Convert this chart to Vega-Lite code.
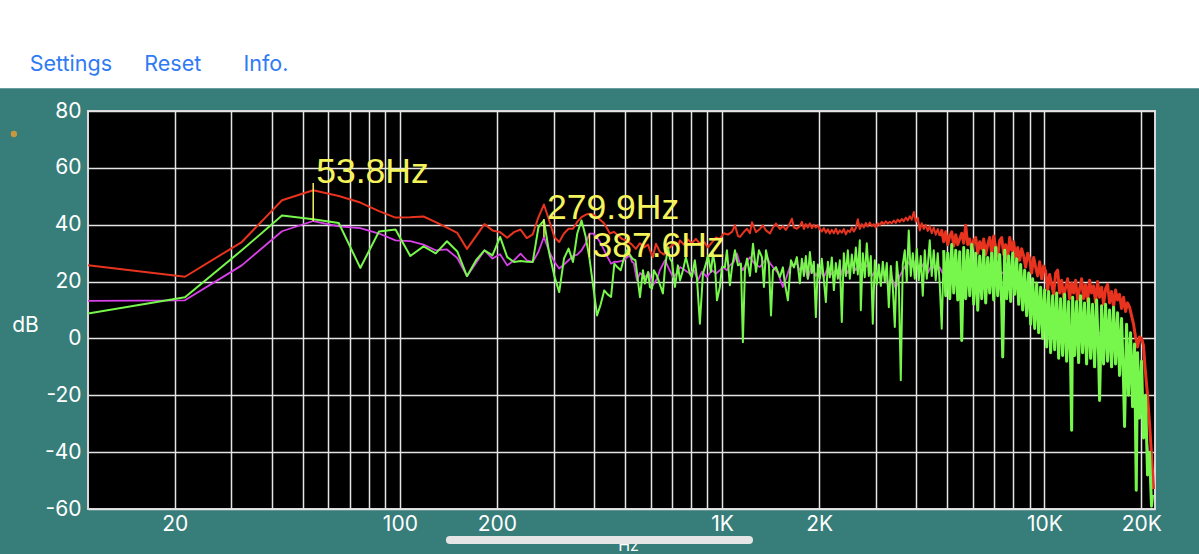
{
  "$schema": "https://vega.github.io/schema/vega-lite/v6.json",
  "width": 1067,
  "height": 398,
  "autosize": {"type": "none"},
  "padding": {"left": 88, "top": 111, "right": 44, "bottom": 45},
  "background": "#377d7a",
  "config": {
    "view": {"fill": "#000000", "stroke": "#d8d8d8", "strokeWidth": 2},
    "axis": {"labelFont": "Inter", "titleFont": "Inter", "labelColor": "#ffffff", "titleColor": "#ffffff", "gridColor": "#e4e4e4", "gridWidth": 1.5, "gridOpacity": 1, "domain": false, "ticks": false, "tickSize": 0, "labelFontSize": 21, "titleFontSize": 21, "titleFontWeight": "normal", "labelFlush": false, "labelOverlap": false}
  },
  "datasets": {
    "red": [
      {"hz":10.77,"db":25.7},{"hz":21.53,"db":21.7},{"hz":32.30,"db":33.9},{"hz":43.07,"db":48.6},{"hz":53.83,"db":52.1},{"hz":64.60,"db":50.1},{"hz":75.37,"db":47.8},{"hz":86.13,"db":44.8},{"hz":96.90,"db":42.5},{"hz":107.7,"db":42.6},{"hz":118.4,"db":42.9},{"hz":129.2,"db":40.9},{"hz":140.0,"db":39.0},{"hz":150.7,"db":37.1},{"hz":161.5,"db":31.5},{"hz":172.3,"db":36.0},{"hz":183.0,"db":40.2},{"hz":193.8,"db":38.0},{"hz":204.6,"db":37.4},{"hz":215.3,"db":35.4},{"hz":226.1,"db":37.4},{"hz":236.9,"db":38.3},{"hz":247.6,"db":35.3},{"hz":258.4,"db":36.6},{"hz":269.2,"db":42.7},{"hz":279.9,"db":47.1},{"hz":290.7,"db":41.5},{"hz":301.5,"db":35.7},{"hz":312.2,"db":33.9},{"hz":323.0,"db":36.9},{"hz":333.8,"db":38.6},{"hz":344.5,"db":38.6},{"hz":355.3,"db":41.0},{"hz":366.1,"db":42.7},{"hz":376.8,"db":43.5},{"hz":387.6,"db":43.9},{"hz":398.4,"db":43.5},{"hz":409,"db":42.7},{"hz":430.7,"db":40.4},{"hz":448.5,"db":36.9},{"hz":461,"db":37.5},{"hz":475,"db":36.3},{"hz":489,"db":35.0},{"hz":505,"db":34.5},{"hz":525,"db":33.0},{"hz":540,"db":31.5},{"hz":556,"db":33.5},{"hz":572,"db":32.0},{"hz":589,"db":33.0},{"hz":597,"db":31.0},{"hz":610,"db":28.6},{"hz":623,"db":33.3},{"hz":641,"db":30.5},{"hz":660,"db":29.5},{"hz":674,"db":31.6},{"hz":689,"db":32.0},{"hz":709,"db":33.5},{"hz":729,"db":32.5},{"hz":740,"db":34.5},{"hz":761,"db":33.0},{"hz":783,"db":34.8},{"hz":806,"db":33.5},{"hz":829,"db":35.0},{"hz":853,"db":33.3},{"hz":878,"db":34.0},{"hz":904,"db":32.0},{"hz":930,"db":33.8},{"hz":957,"db":35.5},{"hz":984,"db":35.0},{"hz":1013,"db":37.0},{"hz":1042,"db":36.5},{"hz":1073,"db":37.5},{"hz":1096,"db":39.8},{"hz":1120,"db":36.0},{"hz":1136,"db":35.7},{"hz":1169,"db":37.5},{"hz":1195,"db":38.6},{"hz":1220,"db":37.0},{"hz":1238,"db":40.9},{"hz":1274,"db":37.4},{"hz":1310,"db":38.5},{"hz":1338,"db":39.8},{"hz":1368,"db":38.0},{"hz":1407,"db":36.9},{"hz":1438,"db":39.0},{"hz":1469,"db":40.4},{"hz":1511,"db":38.5},{"hz":1544,"db":39.5},{"hz":1578,"db":38.2},{"hz":1623,"db":40.5},{"hz":1647,"db":42.1},{"hz":1670,"db":39.0},{"hz":1706,"db":38.6},
      {"hz":1743,"db":39.5},{"hz":1768,"db":41.0},{"hz":1794,"db":38.5},{"hz":1819,"db":40.2},{"hz":1845,"db":39.0},{"hz":1872,"db":40.5},{"hz":1899,"db":38.8},{"hz":1926,"db":40.0},{"hz":1954,"db":39.0},{"hz":1982,"db":39.8},{"hz":2010,"db":38.5},{"hz":2039,"db":37.6},{"hz":2069,"db":38.8},{"hz":2099,"db":37.2},{"hz":2129,"db":38.4},{"hz":2159,"db":36.9},{"hz":2190,"db":38.2},{"hz":2222,"db":37.0},{"hz":2254,"db":38.6},{"hz":2286,"db":36.8},{"hz":2319,"db":38.0},{"hz":2352,"db":37.2},{"hz":2386,"db":38.5},{"hz":2421,"db":36.6},{"hz":2455,"db":38.0},{"hz":2491,"db":37.4},{"hz":2527,"db":39.0},{"hz":2563,"db":37.6},{"hz":2600,"db":38.8},{"hz":2637,"db":41.9},{"hz":2675,"db":38.5},{"hz":2714,"db":40.2},{"hz":2753,"db":39.0},{"hz":2792,"db":40.6},{"hz":2832,"db":39.4},{"hz":2873,"db":40.8},{"hz":2914,"db":39.5},{"hz":2956,"db":40.2},{"hz":2999,"db":39.0},{"hz":3042,"db":40.5},{"hz":3086,"db":39.8},{"hz":3130,"db":41.0},{"hz":3176,"db":40.2},{"hz":3221,"db":41.2},{"hz":3267,"db":40.4},{"hz":3314,"db":41.0},{"hz":3362,"db":40.5},{"hz":3410,"db":41.5},{"hz":3459,"db":40.6},{"hz":3509,"db":41.8},{"hz":3559,"db":41.0},{"hz":3610,"db":42.0},{"hz":3662,"db":41.2},{"hz":3715,"db":42.5},{"hz":3768,"db":41.5},{"hz":3823,"db":43.0},{"hz":3878,"db":41.8},{"hz":3934,"db":44.5},{"hz":3990,"db":41.0},{"hz":4048,"db":42.5},{"hz":4106,"db":38.0},{"hz":4165,"db":40.5},{"hz":4225,"db":38.5},{"hz":4286,"db":40.0},{"hz":4347,"db":37.8},{"hz":4409,"db":39.5},{"hz":4472,"db":37.0},{"hz":4537,"db":39.0},{"hz":4602,"db":36.5},{"hz":4668,"db":38.5},
      {"hz":4736,"db":36.0},{"hz":4804,"db":38.0},{"hz":4873,"db":34.0},{"hz":4943,"db":37.5},{"hz":5014,"db":33.0},{"hz":5086,"db":36.0},{"hz":5159,"db":37.5},{"hz":5233,"db":32.5},{"hz":5309,"db":36.5},{"hz":5385,"db":33.0},{"hz":5462,"db":35.0},{"hz":5541,"db":37.0},{"hz":5620,"db":33.5},{"hz":5701,"db":39.8},{"hz":5783,"db":33.0},{"hz":5867,"db":35.0},{"hz":5951,"db":31.0},{"hz":6037,"db":34.5},{"hz":6124,"db":35.5},{"hz":6212,"db":30.0},{"hz":6301,"db":34.0},{"hz":6392,"db":31.5},{"hz":6484,"db":35.0},{"hz":6577,"db":29.5},{"hz":6672,"db":33.0},{"hz":6767,"db":35.5},{"hz":6865,"db":30.0},{"hz":6963,"db":36.0},{"hz":7063,"db":32.0},{"hz":7165,"db":29.0},{"hz":7268,"db":34.5},{"hz":7373,"db":35.5},{"hz":7479,"db":29.5},{"hz":7586,"db":33.0},{"hz":7695,"db":28.0},{"hz":7806,"db":35.5},{"hz":7918,"db":31.0},{"hz":8032,"db":34.0},{"hz":8148,"db":28.5},{"hz":8265,"db":32.0},{"hz":8383,"db":27.5},{"hz":8504,"db":31.5},{"hz":8626,"db":29.0},{"hz":8750,"db":25.0},{"hz":8876,"db":30.0},{"hz":9004,"db":28.0},{"hz":9133,"db":23.0},{"hz":9265,"db":28.5},{"hz":9398,"db":25.0},{"hz":9533,"db":22.0},{"hz":9670,"db":27.0},{"hz":9809,"db":21.0},{"hz":9950,"db":25.5},{"hz":10093,"db":23.5},{"hz":10239,"db":17.0},{"hz":10386,"db":22.5},{"hz":10535,"db":19.0},{"hz":10687,"db":15.5},{"hz":10841,"db":23.0},{"hz":10997,"db":24.0},{"hz":11154,"db":16.0},{"hz":11315,"db":20.5},{"hz":11478,"db":14.5},{"hz":11643,"db":18.0},{"hz":11810,"db":21.0},{"hz":11980,"db":14.0},{"hz":12153,"db":19.5},{"hz":12328,"db":16.0},{"hz":12505,"db":20.5},{"hz":12685,"db":13.5},{"hz":12866,"db":17.5},{"hz":13051,"db":21.0},{"hz":13239,"db":14.0},{"hz":13430,"db":19.0},{"hz":13623,"db":13.0},{"hz":13818,"db":20.5},{"hz":14017,"db":16.0},{"hz":14219,"db":18.5},{"hz":14423,"db":12.5},{"hz":14631,"db":20.0},{"hz":14840,"db":14.5},{"hz":15054,"db":18.0},{"hz":15270,"db":12.0},{"hz":15490,"db":17.5},{"hz":15713,"db":19.0},{"hz":15938,"db":12.5},{"hz":16167,"db":16.5},{"hz":16400,"db":11.0},{"hz":16636,"db":17.0},{"hz":16875,"db":13.5},{"hz":17117,"db":15.5},{"hz":17364,"db":10.5},{"hz":17614,"db":14.5},{"hz":17867,"db":9.5},{"hz":18124,"db":12.5},{"hz":18384,"db":11.0},{"hz":18649,"db":8.0},{"hz":18917,"db":5.0},{"hz":19189,"db":0.5},{"hz":19465,"db":-3.0},{"hz":19744,"db":0.5},{"hz":20028,"db":0.0},{"hz":20316,"db":-2.5},{"hz":20530,"db":-10.0},{"hz":20905,"db":-20.0},{"hz":21205,"db":-30.0},{"hz":21510,"db":-41.0},{"hz":21820,"db":-53.0}
    ],
    "magenta": [
      {"hz":10.77,"db":13.2},{"hz":21.53,"db":13.4},{"hz":32.30,"db":25.7},{"hz":43.07,"db":37.7},{"hz":53.83,"db":41.3},{"hz":64.60,"db":39.4},{"hz":75.37,"db":38.8},{"hz":86.13,"db":36.9},{"hz":96.90,"db":34.5},{"hz":107.7,"db":34.2},{"hz":118.4,"db":33.0},{"hz":129.2,"db":31.0},{"hz":140.0,"db":31.3},{"hz":150.7,"db":28.3},{"hz":161.5,"db":21.9},{"hz":172.3,"db":26.5},{"hz":183.0,"db":31.0},{"hz":193.8,"db":28.1},{"hz":204.6,"db":29.6},{"hz":215.3,"db":25.7},{"hz":226.1,"db":27.5},{"hz":236.9,"db":29.8},{"hz":247.6,"db":27.5},{"hz":258.4,"db":26.9},{"hz":269.2,"db":30.5},{"hz":279.9,"db":35.7},{"hz":290.7,"db":30.5},{"hz":301.5,"db":27.0},{"hz":312.2,"db":24.6},{"hz":323.0,"db":26.0},{"hz":333.8,"db":27.5},{"hz":344.5,"db":29.0},{"hz":355.3,"db":29.5},{"hz":366.1,"db":31.0},{"hz":376.8,"db":33.3},{"hz":387.6,"db":36.9},{"hz":398.4,"db":36.9},{"hz":409.1,"db":35.5},{"hz":419.9,"db":33.5},{"hz":430.7,"db":31.0},{"hz":441.4,"db":28.5},{"hz":452.2,"db":26.3},{"hz":463.0,"db":27.0},{"hz":473.7,"db":26.9},{"hz":484.5,"db":27.2},{"hz":495.3,"db":27.5},{"hz":506.0,"db":28.5},{"hz":516.8,"db":29.2},
      {"hz":525,"db":27.0},{"hz":532,"db":26.5},{"hz":544,"db":20.4},{"hz":556,"db":23.0},{"hz":576,"db":21.6},{"hz":593,"db":23.0},{"hz":610,"db":18.7},{"hz":628,"db":21.0},{"hz":641,"db":24.0},{"hz":665,"db":27.5},{"hz":684,"db":24.5},{"hz":704,"db":21.6},{"hz":724,"db":23.0},{"hz":740,"db":25.1},{"hz":767,"db":24.0},{"hz":794,"db":22.8},{"hz":817,"db":24.0},{"hz":841,"db":20.4},{"hz":866,"db":23.5},{"hz":897,"db":21.6},{"hz":930,"db":24.0},{"hz":957,"db":22.8},{"hz":984,"db":24.0},{"hz":1006,"db":25.1},{"hz":1035,"db":24.0},{"hz":1057,"db":25.7},{"hz":1088,"db":27.0},{"hz":1112,"db":29.8},{"hz":1136,"db":26.0},{"hz":1160,"db":24.0},{"hz":1195,"db":27.0},{"hz":1220,"db":28.6},{"hz":1265,"db":26.0},{"hz":1310,"db":25.1},{"hz":1348,"db":27.0},{"hz":1378,"db":28.6},{"hz":1407,"db":26.5},{"hz":1438,"db":25.1},{"hz":1490,"db":23.0},{"hz":1544,"db":18.1},{"hz":1578,"db":21.0},{"hz":1623,"db":25.1},{"hz":1670,"db":26.0},{"hz":1706,"db":26.3},
      {"hz":1743,"db":24.0},{"hz":1794,"db":26.5},{"hz":1845,"db":21.0},{"hz":1899,"db":25.5},{"hz":1954,"db":22.0},{"hz":2010,"db":24.5},{"hz":2069,"db":21.5},{"hz":2129,"db":25.0},{"hz":2190,"db":22.5},{"hz":2254,"db":24.0},{"hz":2319,"db":21.0},{"hz":2386,"db":26.0},{"hz":2455,"db":23.0},{"hz":2527,"db":26.5},{"hz":2600,"db":24.0},{"hz":2675,"db":27.0},{"hz":2753,"db":24.5},{"hz":2832,"db":26.0},{"hz":2914,"db":22.0},{"hz":2999,"db":24.0},{"hz":3086,"db":21.5},{"hz":3176,"db":23.0},{"hz":3267,"db":19.0},{"hz":3362,"db":21.5},{"hz":3459,"db":17.5},{"hz":3559,"db":22.0},{"hz":3662,"db":24.5},{"hz":3768,"db":27.0},{"hz":3878,"db":25.0},{"hz":3990,"db":27.5},{"hz":4106,"db":24.0},{"hz":4225,"db":26.5},{"hz":4347,"db":23.0},{"hz":4472,"db":26.0},{"hz":4602,"db":24.0},{"hz":4736,"db":25.0},{"hz":4873,"db":22.0},{"hz":5014,"db":24.0},{"hz":5159,"db":21.0},{"hz":5309,"db":24.5},{"hz":5462,"db":20.5},{"hz":5620,"db":25.0},{"hz":5783,"db":22.0},{"hz":5951,"db":24.0},{"hz":6124,"db":19.0},{"hz":6301,"db":23.0},{"hz":6484,"db":20.5},{"hz":6672,"db":24.0},{"hz":6865,"db":21.0},{"hz":7063,"db":25.0},{"hz":7268,"db":22.0},{"hz":7479,"db":23.5},{"hz":7695,"db":20.0},{"hz":7918,"db":22.0},{"hz":8148,"db":18.0},{"hz":8383,"db":19.5},{"hz":8626,"db":14.0},{"hz":8876,"db":15.0},{"hz":9133,"db":10.0},{"hz":9398,"db":11.0},{"hz":9670,"db":7.0},{"hz":9950,"db":8.5},{"hz":10239,"db":4.0},{"hz":10535,"db":6.0},{"hz":10841,"db":3.5},{"hz":11154,"db":5.5},{"hz":11478,"db":2.5},{"hz":11810,"db":4.5},{"hz":12153,"db":1.5},{"hz":12505,"db":4.0},{"hz":12866,"db":2.0},{"hz":13239,"db":4.5},{"hz":13623,"db":1.0},{"hz":14017,"db":3.0},{"hz":14423,"db":0.5},{"hz":14840,"db":2.0},{"hz":15270,"db":-1.0},{"hz":15713,"db":1.0},{"hz":16167,"db":-2.0},{"hz":16636,"db":-1.0},{"hz":17117,"db":-5.0},{"hz":17614,"db":-7.0},{"hz":18124,"db":-10.0},{"hz":18649,"db":-14.0},{"hz":19189,"db":-17.0},{"hz":19744,"db":-22.0},{"hz":20316,"db":-28.0},{"hz":20905,"db":-38.0},{"hz":21510,"db":-50.0}
    ],
    "green": [
      {"hz":10.77,"db":8.8},{"hz":21.53,"db":14.5},{"hz":32.30,"db":31.0},{"hz":43.07,"db":43.2},{"hz":53.83,"db":41.9},{"hz":64.60,"db":40.6},{"hz":75.37,"db":24.8},{"hz":86.13,"db":37.6},{"hz":96.90,"db":38.3},{"hz":107.7,"db":29.0},{"hz":118.4,"db":32.4},{"hz":129.2,"db":29.9},{"hz":140.0,"db":34.2},{"hz":150.7,"db":30.6},{"hz":161.5,"db":21.9},{"hz":172.3,"db":27.5},{"hz":183.0,"db":31.0},{"hz":193.8,"db":29.2},{"hz":204.6,"db":35.7},{"hz":215.3,"db":28.6},{"hz":226.1,"db":26.9},{"hz":236.9,"db":27.2},{"hz":247.6,"db":27.0},{"hz":258.4,"db":26.9},{"hz":269.2,"db":39.2},{"hz":279.9,"db":41.5},{"hz":290.7,"db":30.0},{"hz":301.5,"db":22.0},{"hz":312.2,"db":16.3},{"hz":323.0,"db":28.1},{"hz":333.8,"db":31.6},{"hz":344.5,"db":26.9},{"hz":355.3,"db":37.0},{"hz":366.1,"db":41.5},{"hz":376.8,"db":36.0},{"hz":387.6,"db":28.1},{"hz":398.4,"db":18.0},{"hz":409.1,"db":8.1},{"hz":419.9,"db":12.0},{"hz":430.7,"db":16.9},{"hz":441.4,"db":15.5},{"hz":452.2,"db":14.6},{"hz":463.0,"db":26.3},{"hz":473.7,"db":25.0},{"hz":484.5,"db":24.0},{"hz":495.3,"db":28.0},{"hz":506.0,"db":31.0},{"hz":516.8,"db":29.5},{"hz":527.6,"db":28.0},{"hz":538.3,"db":27.5},
      {"hz":556,"db":14.5},{"hz":568,"db":24.0},{"hz":576,"db":19.3},{"hz":589,"db":23.4},{"hz":597,"db":18.1},{"hz":606,"db":17.5},{"hz":614,"db":24.0},{"hz":628,"db":22.0},{"hz":641,"db":19.0},{"hz":655,"db":15.8},{"hz":665,"db":25.1},{"hz":679,"db":32.1},{"hz":689,"db":28.0},{"hz":699,"db":26.9},{"hz":714,"db":18.1},{"hz":729,"db":25.7},{"hz":740,"db":20.4},{"hz":756,"db":24.0},{"hz":772,"db":28.6},{"hz":794,"db":22.8},{"hz":806,"db":21.6},{"hz":823,"db":27.5},{"hz":835,"db":21.6},{"hz":853,"db":5.2},{"hz":872,"db":22.8},{"hz":891,"db":26.3},{"hz":904,"db":29.2},{"hz":923,"db":23.4},{"hz":937,"db":29.8},{"hz":950,"db":25.7},{"hz":964,"db":13.4},{"hz":984,"db":18.1},{"hz":999,"db":25.1},{"hz":1020,"db":25.1},{"hz":1035,"db":31.0},{"hz":1057,"db":18.7},{"hz":1073,"db":25.0},{"hz":1096,"db":31.0},{"hz":1120,"db":25.7},{"hz":1144,"db":26.3},{"hz":1160,"db":-1.3},{"hz":1177,"db":24.0},{"hz":1195,"db":28.1},{"hz":1220,"db":22.0},{"hz":1247,"db":33.3},{"hz":1274,"db":23.4},{"hz":1301,"db":31.0},{"hz":1329,"db":28.6},{"hz":1348,"db":18.1},{"hz":1368,"db":31.0},{"hz":1397,"db":26.0},{"hz":1418,"db":8.1},{"hz":1438,"db":24.0},{"hz":1469,"db":25.1},{"hz":1511,"db":21.6},{"hz":1544,"db":25.0},{"hz":1566,"db":19.3},{"hz":1600,"db":13.4},{"hz":1635,"db":27.5},{"hz":1670,"db":25.0},{"hz":1706,"db":28.6},
      {"hz":1743,"db":19.4},{"hz":1768,"db":28.0},{"hz":1794,"db":22.0},{"hz":1819,"db":29.0},{"hz":1845,"db":21.0},{"hz":1872,"db":30.4},{"hz":1899,"db":23.0},{"hz":1926,"db":27.0},{"hz":1954,"db":7.5},{"hz":1982,"db":26.0},{"hz":2010,"db":21.0},{"hz":2039,"db":28.0},{"hz":2069,"db":20.5},{"hz":2099,"db":12.8},{"hz":2129,"db":27.0},{"hz":2159,"db":21.5},{"hz":2190,"db":28.5},{"hz":2222,"db":17.0},{"hz":2254,"db":26.5},{"hz":2286,"db":21.0},{"hz":2319,"db":27.5},{"hz":2352,"db":5.8},{"hz":2386,"db":30.0},{"hz":2421,"db":22.0},{"hz":2455,"db":31.0},{"hz":2491,"db":21.0},{"hz":2527,"db":29.5},{"hz":2563,"db":23.0},{"hz":2600,"db":32.0},{"hz":2637,"db":22.5},{"hz":2675,"db":34.5},{"hz":2694,"db":9.9},{"hz":2733,"db":30.0},{"hz":2772,"db":21.5},{"hz":2812,"db":33.5},{"hz":2853,"db":22.0},{"hz":2894,"db":29.0},{"hz":2935,"db":5.2},{"hz":2978,"db":27.5},{"hz":3020,"db":19.0},{"hz":3064,"db":26.0},{"hz":3108,"db":18.5},{"hz":3153,"db":27.0},{"hz":3198,"db":20.0},{"hz":3244,"db":26.5},{"hz":3291,"db":11.0},{"hz":3338,"db":25.5},{"hz":3386,"db":18.0},{"hz":3435,"db":4.0},{"hz":3484,"db":27.0},{"hz":3534,"db":19.5},{"hz":3585,"db":-14.7},{"hz":3636,"db":26.0},{"hz":3689,"db":31.0},{"hz":3742,"db":20.0},{"hz":3795,"db":38.0},{"hz":3850,"db":22.0},{"hz":3906,"db":30.0},{"hz":3962,"db":21.0},{"hz":4019,"db":31.5},{"hz":4077,"db":20.5},{"hz":4135,"db":29.0},{"hz":4195,"db":15.0},{"hz":4255,"db":31.0},{"hz":4317,"db":21.0},{"hz":4379,"db":30.0},{"hz":4409,"db":34.5},{"hz":4472,"db":22.0},{"hz":4537,"db":31.0},{"hz":4602,"db":20.5},{"hz":4668,"db":30.0},{"hz":4736,"db":19.0},{"hz":4804,"db":3.4},{"hz":4873,"db":31.0},{"hz":4943,"db":15.0},{"hz":5014,"db":30.0},{"hz":5086,"db":14.0},{"hz":5159,"db":33.0},{"hz":5233,"db":16.0},{"hz":5309,"db":31.0},{"hz":5385,"db":13.5},{"hz":5462,"db":30.5},{"hz":5541,"db":-0.7},{"hz":5620,"db":32.0},{"hz":5701,"db":14.0},{"hz":5783,"db":31.0},{"hz":5867,"db":15.0},{"hz":5951,"db":33.0},{"hz":6037,"db":12.0},{"hz":6124,"db":30.0},{"hz":6212,"db":9.9},{"hz":6301,"db":29.0},{"hz":6392,"db":14.0},{"hz":6484,"db":31.0},{"hz":6577,"db":12.5},{"hz":6672,"db":28.5},{"hz":6767,"db":16.0},{"hz":6865,"db":30.0},{"hz":6963,"db":13.5},{"hz":7063,"db":32.0},{"hz":7165,"db":15.0},{"hz":7268,"db":29.5},{"hz":7373,"db":12.0},{"hz":7426,"db":-6.5},{"hz":7533,"db":31.0},{"hz":7641,"db":14.0},{"hz":7751,"db":29.0},{"hz":7862,"db":13.0},{"hz":7975,"db":30.0},{"hz":8090,"db":15.5},{"hz":8206,"db":28.0},{"hz":8324,"db":12.0},{"hz":8443,"db":26.0},{"hz":8565,"db":10.0},{"hz":8688,"db":24.0},{"hz":8813,"db":8.0},{"hz":8940,"db":23.0},{"hz":9069,"db":5.0},{"hz":9199,"db":21.0},{"hz":9332,"db":3.5},{"hz":9466,"db":19.5},{"hz":9602,"db":2.0},{"hz":9739,"db":18.0},{"hz":9880,"db":0.0},{"hz":10022,"db":17.0},{"hz":10166,"db":-3.0},{"hz":10312,"db":16.5},{"hz":10460,"db":-5.0},{"hz":10611,"db":15.0},{"hz":10764,"db":-4.0},{"hz":10919,"db":16.0},{"hz":11076,"db":-7.0},{"hz":11234,"db":14.0},{"hz":11396,"db":-6.0},{"hz":11560,"db":15.5},{"hz":11726,"db":-8.0},{"hz":11895,"db":13.0},{"hz":12066,"db":-9.0},{"hz":12153,"db":-32.3},{"hz":12240,"db":14.5},{"hz":12416,"db":-6.0},{"hz":12595,"db":13.0},{"hz":12775,"db":-8.5},{"hz":12958,"db":15.0},{"hz":13145,"db":-5.0},{"hz":13334,"db":12.5},{"hz":13526,"db":-9.0},{"hz":13720,"db":14.0},{"hz":13917,"db":-7.0},{"hz":14118,"db":12.0},{"hz":14321,"db":-10.0},{"hz":14527,"db":13.5},{"hz":14735,"db":-6.0},{"hz":14840,"db":-21.8},{"hz":15054,"db":11.5},{"hz":15270,"db":-9.0},{"hz":15490,"db":12.0},{"hz":15713,"db":-8.0},{"hz":15938,"db":10.0},{"hz":16167,"db":-10.0},{"hz":16400,"db":11.0},{"hz":16636,"db":-9.0},{"hz":16875,"db":9.0},{"hz":17117,"db":-13.0},{"hz":17364,"db":7.0},{"hz":17614,"db":-16.0},{"hz":17740,"db":-31.0},{"hz":17995,"db":5.0},{"hz":18254,"db":-20.0},{"hz":18516,"db":2.0},{"hz":18783,"db":-24.0},{"hz":19053,"db":-2.0},{"hz":19287,"db":-53.4},{"hz":19465,"db":-5.0},{"hz":19744,"db":-28.0},{"hz":20028,"db":-8.0},{"hz":20316,"db":-35.0},{"hz":20608,"db":-20.0},{"hz":20905,"db":-48.0},{"hz":21205,"db":-40.0},{"hz":21510,"db":-59.0},{"hz":21665,"db":-55.0}
    ],
    "peaks": [
      {"hz":53.83,"peak_db":41.3,"label_db":54.7,"label":"53.8Hz"},
      {"hz":279.93,"peak_db":35.7,"label_db":42.0,"label":"279.9Hz"},
      {"hz":387.6,"peak_db":36.9,"label_db":28.6,"label":"387.6Hz"}
    ]
  },
  "layer": [
    {
      "data": {"values": [{}]},
      "mark": {"type": "rect", "color": "#ffffff", "clip": false},
      "encoding": {
        "x": {"datum": 1, "type": "quantitative", "scale": {"type": "log", "domain": [10.7666, 22050], "nice": false}},
        "x2": {"datum": 100000},
        "y": {"datum": 88, "type": "quantitative", "scale": {"domain": [-60, 80], "nice": false, "zero": false}},
        "y2": {"datum": 140}
      }
    },
    {
      "data": {"values": [{}]},
      "mark": {"type": "text", "text": "Settings", "align": "left", "baseline": "alphabetic", "font": "Inter", "fontSize": 21.5, "color": "#2f7bf3", "clip": false},
      "encoding": {
        "x": {"datum": 7.1, "type": "quantitative", "scale": {"type": "log", "domain": [10.7666, 22050], "nice": false}},
        "y": {"datum": 94.1, "type": "quantitative", "scale": {"domain": [-60, 80], "nice": false, "zero": false}}
      }
    },
    {
      "data": {"values": [{}]},
      "mark": {"type": "text", "text": "Reset", "align": "left", "baseline": "alphabetic", "font": "Inter", "fontSize": 21.5, "color": "#2f7bf3", "clip": false},
      "encoding": {
        "x": {"datum": 16.1, "type": "quantitative", "scale": {"type": "log", "domain": [10.7666, 22050], "nice": false}},
        "y": {"datum": 94.1, "type": "quantitative", "scale": {"domain": [-60, 80], "nice": false, "zero": false}}
      }
    },
    {
      "data": {"values": [{}]},
      "mark": {"type": "text", "text": "Info.", "align": "left", "baseline": "alphabetic", "font": "Inter", "fontSize": 21.5, "color": "#2f7bf3", "clip": false},
      "encoding": {
        "x": {"datum": 32.7, "type": "quantitative", "scale": {"type": "log", "domain": [10.7666, 22050], "nice": false}},
        "y": {"datum": 94.1, "type": "quantitative", "scale": {"domain": [-60, 80], "nice": false, "zero": false}}
      }
    },
    {
      "data": {"values": [{}]},
      "mark": {"type": "point", "filled": true, "color": "#c8983e", "size": 40, "opacity": 1, "clip": false},
      "encoding": {
        "x": {"datum": 6.34, "type": "quantitative", "scale": {"type": "log", "domain": [10.7666, 22050], "nice": false}},
        "y": {"datum": 71.9, "type": "quantitative", "scale": {"domain": [-60, 80], "nice": false, "zero": false}}
      }
    },
    {
      "data": {"name": "red"},
      "transform": [{"filter": "datum.hz <= 4736"}],
      "mark": {"type": "line", "color": "#e8331f", "strokeWidth": 2, "strokeJoin": "round", "clip": true},
      "encoding": {
        "x": {"field": "hz", "type": "quantitative", "scale": {"type": "log", "domain": [10.7666, 22050], "nice": false},
          "axis": {"title": "Hz", "values": [20,30,40,50,60,70,80,90,100,200,300,400,500,600,700,800,900,1000,2000,3000,4000,5000,6000,7000,8000,9000,10000,20000],
            "labelExpr": "indexof([20,100,200,1000,2000,10000,20000], datum.value) < 0 ? '' : (datum.value >= 1000 ? (datum.value / 1000) + 'K' : '' + datum.value)",
            "labelPadding": 4, "labelBaseline": "top", "grid": true, "titleX": 540, "titleY": 28.5, "titleFontSize": 16, "titleAlign": "center", "titleBaseline": "top", "titleAngle": 0}},
        "y": {"field": "db", "type": "quantitative", "scale": {"domain": [-60, 80], "nice": false, "zero": false},
          "axis": {"title": "dB", "values": [-60,-40,-20,0,20,40,60,80], "labelExpr": "'' + datum.value", "labelPadding": 7, "grid": true,
            "titleAngle": 0, "titleX": -63, "titleY": 214, "titleAlign": "center", "titleBaseline": "middle"}}
      }
    },
    {
      "data": {"name": "red"},
      "transform": [{"filter": "datum.hz >= 4736"}],
      "mark": {"type": "line", "color": "#e8331f", "strokeWidth": 3, "strokeJoin": "round", "clip": true},
      "encoding": {
        "x": {"field": "hz", "type": "quantitative", "scale": {"type": "log", "domain": [10.7666, 22050], "nice": false}},
        "y": {"field": "db", "type": "quantitative", "scale": {"domain": [-60, 80], "nice": false, "zero": false}}
      }
    },
    {
      "data": {"name": "magenta"},
      "mark": {"type": "line", "color": "#d940ea", "strokeWidth": 1.8, "strokeJoin": "round", "clip": true},
      "encoding": {
        "x": {"field": "hz", "type": "quantitative", "scale": {"type": "log", "domain": [10.7666, 22050], "nice": false}},
        "y": {"field": "db", "type": "quantitative", "scale": {"domain": [-60, 80], "nice": false, "zero": false}}
      }
    },
    {
      "data": {"name": "green"},
      "transform": [{"filter": "datum.hz <= 4873"}],
      "mark": {"type": "line", "color": "#77f64b", "strokeWidth": 2, "strokeJoin": "round", "clip": true},
      "encoding": {
        "x": {"field": "hz", "type": "quantitative", "scale": {"type": "log", "domain": [10.7666, 22050], "nice": false}},
        "y": {"field": "db", "type": "quantitative", "scale": {"domain": [-60, 80], "nice": false, "zero": false}}
      }
    },
    {
      "data": {"name": "green"},
      "transform": [{"filter": "datum.hz >= 4873"}],
      "mark": {"type": "line", "color": "#77f64b", "strokeWidth": 3, "strokeJoin": "round", "clip": true},
      "encoding": {
        "x": {"field": "hz", "type": "quantitative", "scale": {"type": "log", "domain": [10.7666, 22050], "nice": false}},
        "y": {"field": "db", "type": "quantitative", "scale": {"domain": [-60, 80], "nice": false, "zero": false}}
      }
    },
    {
      "data": {"values": [{}]},
      "mark": {"type": "rule", "color": "#e6e6e6", "strokeWidth": 8, "strokeCap": "round", "clip": false},
      "encoding": {
        "x": {"datum": 143, "type": "quantitative", "scale": {"type": "log", "domain": [10.7666, 22050], "nice": false}},
        "x2": {"datum": 1212},
        "y": {"datum": -70.9, "type": "quantitative", "scale": {"domain": [-60, 80], "nice": false, "zero": false}}
      }
    },
    {
      "data": {"name": "peaks"},
      "mark": {"type": "rule", "color": "#f4f35c", "strokeWidth": 1.5},
      "encoding": {
        "x": {"field": "hz", "type": "quantitative", "scale": {"type": "log", "domain": [10.7666, 22050], "nice": false}},
        "y": {"field": "peak_db", "type": "quantitative", "scale": {"domain": [-60, 80], "nice": false, "zero": false}},
        "y2": {"field": "label_db"}
      }
    },
    {
      "data": {"name": "peaks"},
      "mark": {"type": "text", "align": "left", "baseline": "alphabetic", "dx": 3, "font": "Liberation Sans", "fontSize": 35.5, "color": "#f4f35c"},
      "encoding": {
        "x": {"field": "hz", "type": "quantitative", "scale": {"type": "log", "domain": [10.7666, 22050], "nice": false}},
        "y": {"field": "label_db", "type": "quantitative", "scale": {"domain": [-60, 80], "nice": false, "zero": false}},
        "text": {"field": "label"}
      }
    }
  ]
}
